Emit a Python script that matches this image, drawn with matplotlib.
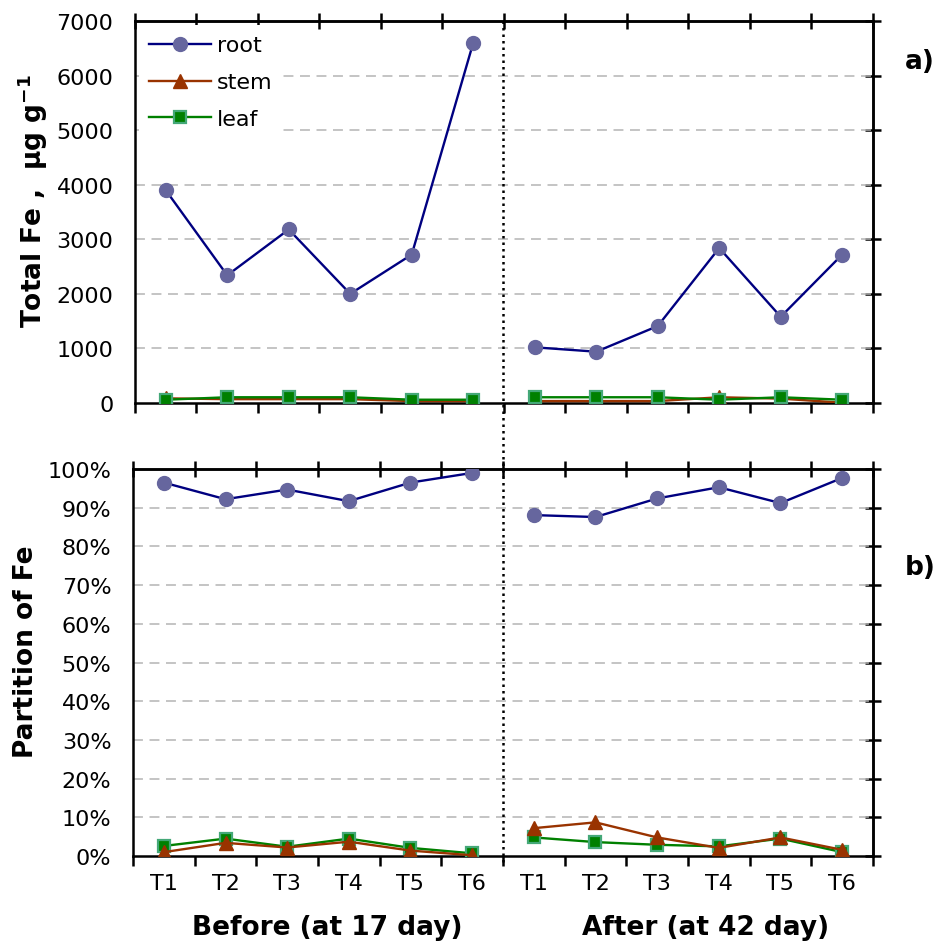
import numpy as np
import matplotlib
matplotlib.use("Agg")
import matplotlib.pyplot as plt
from matplotlib.lines import Line2D
from matplotlib.ticker import FixedLocator, FuncFormatter
from matplotlib.transforms import blended_transform_factory

# data
cats = ['T1', 'T2', 'T3', 'T4', 'T5', 'T6']

# total Fe, ug/g
root_before = [3900, 2340, 3180, 2000, 2720, 6600]
root_after = [1020, 940, 1410, 2840, 1580, 2720]
stem_before = [85, 70, 70, 70, 35, 35]
stem_after = [35, 35, 35, 105, 80, 5]
leaf_before = [60, 105, 105, 105, 60, 60]
leaf_after = [105, 105, 105, 60, 105, 60]

# partition of Fe, %
root_pct_before = [96.5, 92.2, 94.7, 91.7, 96.5, 99.0]
root_pct_after = [88.1, 87.6, 92.4, 95.3, 91.2, 97.7]
stem_pct_before = [1.0, 3.4, 2.2, 3.7, 1.4, 0.2]
stem_pct_after = [7.2, 8.7, 4.8, 2.1, 4.8, 1.6]
leaf_pct_before = [2.6, 4.5, 2.4, 4.5, 2.1, 0.7]
leaf_pct_after = [4.8, 3.6, 2.9, 2.5, 4.5, 1.0]

plt.rcParams['font.family'] = 'DejaVu Sans'
plt.rcParams['font.size'] = 16

fig = plt.figure(figsize=(9.4, 9.45), dpi=100)
ax1 = fig.add_axes([0.1436, 0.5725, 0.7851, 0.4042])
ax2 = fig.add_axes([0.1415, 0.0931, 0.7872, 0.4095])

x_before = np.arange(6)
x_after = np.arange(6) + 6
bounds = np.arange(13) - 0.5

styles = {
    'root': dict(color='#000080', marker='o', markersize=10, markerfacecolor='#66669E',
                 markeredgecolor='#66669E', lw=1.7),
    'stem': dict(color='#993300', marker='^', markersize=10, markerfacecolor='#993300',
                 markeredgecolor='#993300', lw=1.7),
    'leaf': dict(color='#008000', marker='s', markersize=9, markerfacecolor='#008000',
                 markeredgecolor='#44A878', markeredgewidth=1.6, lw=1.7),
}

def setup(ax, ymax, ystep):
    ax.set_xlim(-0.5, 11.5)
    ax.set_ylim(0, ymax)
    for s in ax.spines.values():
        s.set_linewidth(1.8)
    ax.set_yticks(np.arange(0, ymax + ystep / 2, ystep))
    ax.yaxis.set_minor_locator(FixedLocator([0, ymax]))
    ax.tick_params(axis='y', which='major', left=False, right=False, labelsize=16, pad=12)
    ax.tick_params(axis='y', which='minor', left=True, right=False, direction='out',
                   length=8, width=1.8)
    ax.set_xticks(np.arange(12))
    ax.xaxis.set_minor_locator(FixedLocator(bounds))
    ax.tick_params(axis='x', which='major', length=0, pad=12, labelsize=16)
    ax.tick_params(axis='x', which='minor', bottom=True, top=False, direction='out',
                   length=7, width=1.8)
    for v in np.arange(ystep, ymax - ystep / 2, ystep):
        ax.axhline(v, color='#B4B4B4', lw=1.1, dashes=(6.5, 4.3), zorder=0.5)
    sx = ax.secondary_xaxis('top')
    sx.set_xticks(bounds)
    sx.tick_params(direction='inout', length=11, width=1.8, labeltop=False)
    sx.spines['top'].set_linewidth(1.8)
    sy = ax.secondary_yaxis('right')
    sy.set_yticks(np.arange(0, ymax + ystep / 2, ystep))
    sy.tick_params(direction='inout', length=11, width=1.8, labelright=False)
    sy.spines['right'].set_linewidth(1.8)

# panel a: total Fe
setup(ax1, 7000, 1000)
ax1.plot(x_before, root_before, label='root', zorder=3, **styles['root'])
ax1.plot(x_after, root_after, zorder=3, **styles['root'])
ax1.plot(x_before, stem_before, label='stem', zorder=3, **styles['stem'])
ax1.plot(x_after, stem_after, zorder=3, **styles['stem'])
ax1.plot(x_before, leaf_before, label='leaf', zorder=4, **styles['leaf'])
ax1.plot(x_after, leaf_after, zorder=4, **styles['leaf'])
ax1.set_xticklabels([])
ax1.set_ylabel('Total Fe ,  μg g$^{\\mathbf{-1}}$', fontsize=19, fontweight='bold')
ax1.yaxis.set_label_coords(-0.115, 0.53)
leg = ax1.legend(loc='upper left', bbox_to_anchor=(0.0, 1.0), frameon=True, fancybox=False,
                 framealpha=1, edgecolor='none', fontsize=16, handlelength=2.75,
                 handletextpad=0.3, labelspacing=0.76, borderpad=0.45, borderaxespad=0.2)
leg.set_zorder(5)

# panel b: partition of Fe
setup(ax2, 100, 10)
ax2.plot(x_before, root_pct_before, zorder=3, **styles['root'])
ax2.plot(x_after, root_pct_after, zorder=3, **styles['root'])
ax2.plot(x_before, leaf_pct_before, zorder=3, **styles['leaf'])
ax2.plot(x_after, leaf_pct_after, zorder=3, **styles['leaf'])
ax2.plot(x_before, stem_pct_before, zorder=4, **styles['stem'])
ax2.plot(x_after, stem_pct_after, zorder=4, **styles['stem'])
ax2.yaxis.set_major_formatter(FuncFormatter(lambda v, p: '%d%%' % v))
ax2.set_xticklabels(cats + cats)
ax2.set_ylabel('Partition of Fe', fontsize=19, fontweight='bold')
ax2.yaxis.set_label_coords(-0.127, 0.53)

# dotted separator between before/after, across both panels
tr = blended_transform_factory(ax2.transData, fig.transFigure)
fig.add_artist(Line2D([5.5, 5.5], [0.9767, 0.0868], transform=tr, color='black',
                      lw=1.8, linestyle=(0, (1, 1.6))))

fig.text(0.348, 0.018, 'Before (at 17 day)', ha='center', va='center',
         fontsize=19, fontweight='bold')
fig.text(0.751, 0.018, 'After (at 42 day)', ha='center', va='center',
         fontsize=19, fontweight='bold')
fig.text(0.979, 0.934, 'a)', ha='center', va='center', fontsize=19, fontweight='bold')
fig.text(0.979, 0.399, 'b)', ha='center', va='center', fontsize=19, fontweight='bold')

fig.savefig('out.png', dpi=100)
